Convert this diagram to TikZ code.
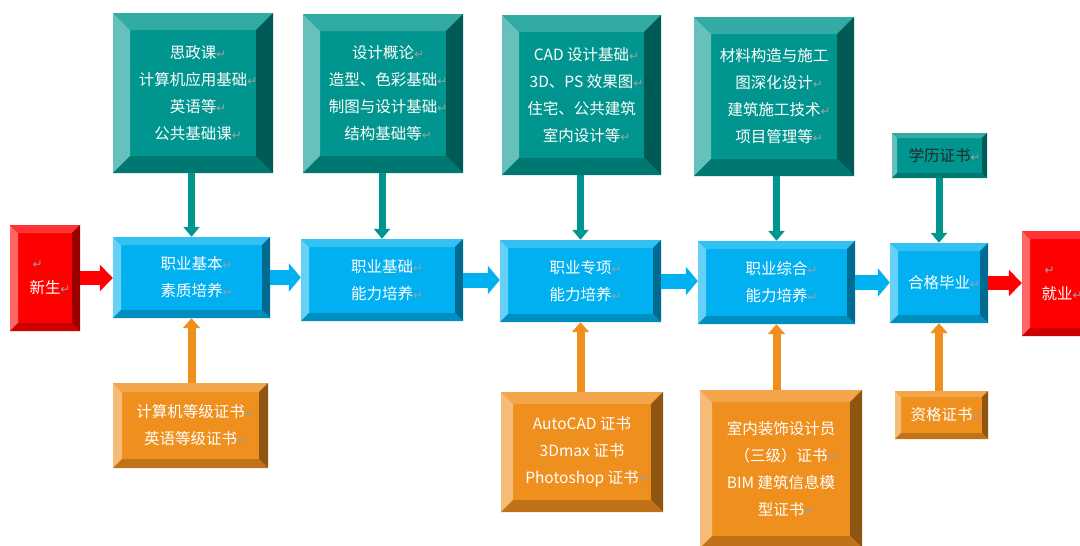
\documentclass[tikz,border=0pt]{standalone}
\usepackage{fontspec}
\setmainfont{Noto Sans CJK SC}
\newfontfamily\markfont{DejaVu Sans}
\usetikzlibrary{arrows.meta}
\definecolor{tealbox}{HTML}{00968F}
\definecolor{bluebox}{HTML}{00B0F0}
\definecolor{orangebox}{HTML}{EF8F1D}
\definecolor{redbox}{HTML}{FF0000}
\newcommand{\retmark}{\rlap{\markfont\fontsize{12}{12}\selectfont\textcolor{gray!75}{↵}}}

\begin{document}
\begin{tikzpicture}[x=1pt, y=-1pt,
  bevel/.style 2 args={rectangle, fill=#1, text=white, align=center, inner sep=0pt,
    path picture={
      \path (path picture bounding box.north west) coordinate (pa)
            (path picture bounding box.north east) coordinate (pb)
            (path picture bounding box.south east) coordinate (pc)
            (path picture bounding box.south west) coordinate (pd);
      \path ([shift={(#2pt,-#2pt)}]pa) coordinate (qa)
            ([shift={(-#2pt,-#2pt)}]pb) coordinate (qb)
            ([shift={(-#2pt,#2pt)}]pc) coordinate (qc)
            ([shift={(#2pt,#2pt)}]pd) coordinate (qd);
      \fill[#1!60!white] (pa) -- (qa) -- (qd) -- (pd) -- cycle;
      \fill[#1!80!white] (pa) -- (pb) -- (qb) -- (qa) -- cycle;
      \fill[#1!60!black] (pb) -- (pc) -- (qc) -- (qb) -- cycle;
      \fill[#1!80!black] (pd) -- (pc) -- (qc) -- (qd) -- cycle;
    }},
  coursebox/.style={bevel={tealbox}{17}},
  stagebox/.style={bevel={bluebox}{8}},
  certbox/.style={bevel={orangebox}{#1}},
  endbox/.style={bevel={redbox}{8}},
  downarr/.style={draw=tealbox, line width=7pt, -{Triangle[width=16pt,length=10pt]}},
  uparr/.style={draw=orangebox, line width=8pt, -{Triangle[width=17pt,length=10pt]}},
  flowarr/.style={draw=bluebox, line width=15pt, -{Triangle[width=28pt,length=12pt]}},
  redarr/.style={draw=redbox, line width=14pt, -{Triangle[width=26pt,length=13pt]}},
  node font=\fontsize{15.5}{27}\selectfont]
  \clip (0,0) rectangle (1080,546);

  \node[endbox, minimum width=70pt, minimum height=106pt] (new) at (45,278) {\retmark\hspace*{1.6em}\\[-2pt]新生\retmark};
  \node[stagebox, minimum width=157pt, minimum height=81pt] (basic) at (191.5,277.5) {职业基本\retmark\\素质培养\retmark};
  \node[stagebox, minimum width=162pt, minimum height=82pt] (found) at (382,280) {职业基础\retmark\\能力培养\retmark};
  \node[stagebox, minimum width=161pt, minimum height=82pt] (special) at (580.5,281) {职业专项\retmark\\能力培养\retmark};
  \node[stagebox, minimum width=157pt, minimum height=83pt] (general) at (776.5,282.5) {职业综合\retmark\\能力培养\retmark};
  \node[stagebox, minimum width=98pt, minimum height=80pt] (grad) at (939,283) {合格毕业\retmark};
  \node[endbox, minimum width=70pt, minimum height=105pt] (job) at (1057,283.5) {\retmark\hspace*{1.6em}\\[-2pt]就业\retmark};

  \node[coursebox, minimum width=160pt, minimum height=160pt] (pubc) at (193,93) {思政课\retmark\\计算机应用基础\retmark\\英语等\retmark\\公共基础课\retmark};
  \node[coursebox, minimum width=160pt, minimum height=159pt] (desc) at (383,93.5) {设计概论\retmark\\造型、色彩基础\retmark\\制图与设计基础\retmark\\结构基础等\retmark};
  \node[coursebox, minimum width=159pt, minimum height=160pt] (cadc) at (581.5,95) {CAD 设计基础\retmark\\3D、PS 效果图\retmark\\住宅、公共建筑\\室内设计等\retmark};
  \node[coursebox, minimum width=160pt, minimum height=159pt] (conc) at (774,96.5) {材料构造与施工\\图深化设计\retmark\\建筑施工技术\retmark\\项目管理等\retmark};
  \node[bevel={tealbox}{5}, text=black!85, minimum width=95pt, minimum height=45pt] (degree) at (939.5,155.5) {学历证书\retmark};

  \node[certbox=9, minimum width=155pt, minimum height=85pt] (cert1) at (190.5,425.5) {计算机等级证书\retmark\\英语等级证书\retmark};
  \node[certbox=12, minimum width=162pt, minimum height=120pt] (cert2) at (582,452) {AutoCAD 证书\\3Dmax 证书\\Photoshop 证书\retmark};
  \node[certbox=12, minimum width=162pt, minimum height=158pt] (cert3) at (781,469) {室内装饰设计员\\（三级）证书\retmark\\BIM 建筑信息模\\型证书\retmark};
  \node[certbox=6, minimum width=93pt, minimum height=48pt] (qual) at (941.5,415) {资格证书\retmark};

  \draw[redarr] (new.east) -- (new.east -| basic.west);
  \draw[flowarr] (basic.east) -- (basic.east -| found.west);
  \draw[flowarr] (found.east) -- (found.east -| special.west);
  \draw[flowarr] (special.east) -- (special.east -| general.west);
  \draw[flowarr] (general.east) -- (general.east -| grad.west);
  \draw[redarr] (grad.east) -- (grad.east -| job.west);

  \draw[downarr] (basic.north |- pubc.south) -- (basic.north);
  \draw[downarr] (found.north |- desc.south) -- (found.north);
  \draw[downarr] (special.north |- cadc.south) -- (special.north);
  \draw[downarr] (general.north |- conc.south) -- (general.north);
  \draw[downarr] (grad.north |- degree.south) -- (grad.north);

  \draw[uparr] (basic.south |- cert1.north) -- (basic.south);
  \draw[uparr] (special.south |- cert2.north) -- (special.south);
  \draw[uparr] (general.south |- cert3.north) -- (general.south);
  \draw[uparr] (grad.south |- qual.north) -- (grad.south);
\end{tikzpicture}
\end{document}
